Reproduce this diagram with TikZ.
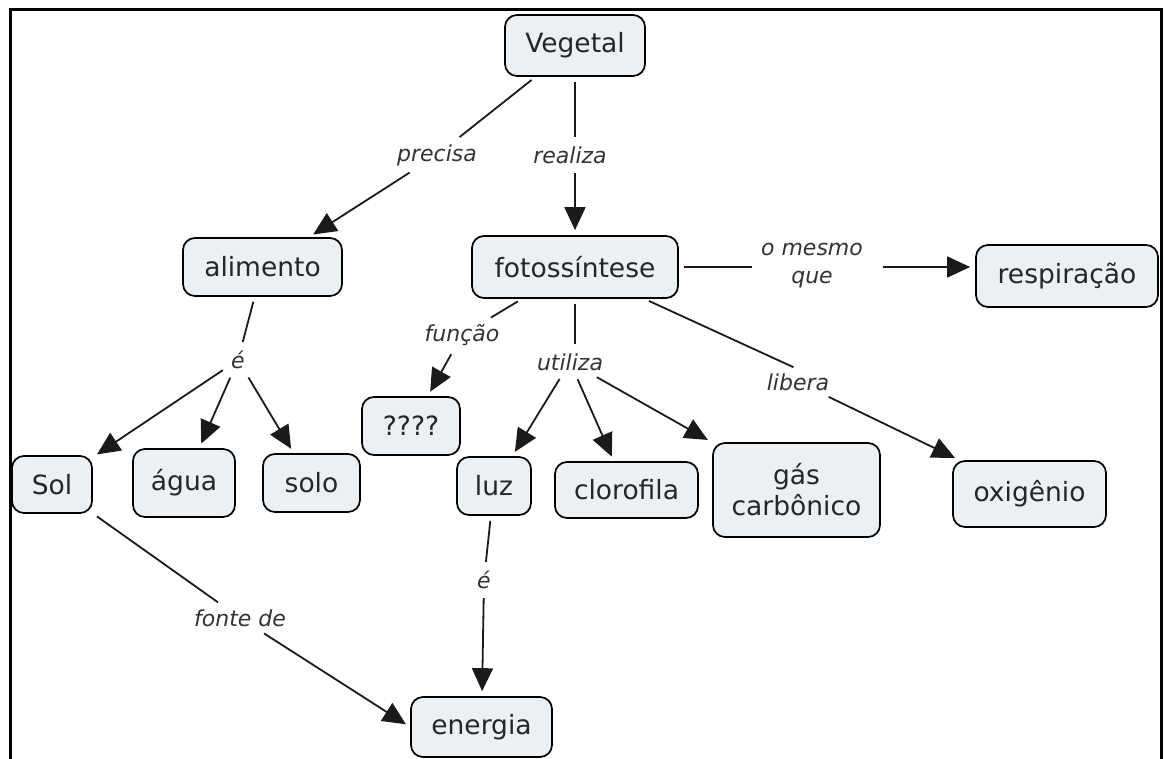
\documentclass[tikz,border=0pt]{standalone}
\usepackage{fontspec}
\setmainfont{DejaVu Sans}
\usetikzlibrary{arrows.meta}
\definecolor{nodefill}{HTML}{EAF0F3}
\definecolor{nodetext}{HTML}{262626}
\definecolor{linktext}{HTML}{333333}
\definecolor{linkline}{HTML}{1A1A1A}
\tikzset{
  concept/.style={draw=black, line width=1.7pt, rounded corners=12pt,
    fill=nodefill, text=nodetext, align=center, inner sep=0pt,
    font=\fontsize{26.5}{31}\selectfont},
  linkword/.style={text=linktext, align=center, inner sep=4pt,
    font=\fontsize{22}{28}\selectfont\itshape},
  link/.style={draw=linkline, line width=1.8pt, shorten <=5pt, shorten >=5pt},
  linkarrow/.style={link, -{Triangle[length=23pt,width=21pt]}},
}
\begin{document}
\begin{tikzpicture}[x=1pt,y=-1pt]
\useasboundingbox (0,0) rectangle (1165,759);

% frame
\draw[line width=3pt] (10,759) -- (10,9.5) -- (1161.5,9.5) -- (1161.5,759);

% concepts
\node[concept, minimum width=140pt, minimum height=61pt] (veg)   at (575,45.5)  {Vegetal};
\node[concept, minimum width=159pt, minimum height=58pt] (alim)  at (262.5,267) {alimento};
\node[concept, minimum width=206pt, minimum height=62pt] (foto)  at (575,267)   {fotossíntese};
\node[concept, minimum width=182pt, minimum height=62pt] (resp)  at (1067,276)  {respiração};
\node[concept, minimum width=98pt,  minimum height=58pt] (q)     at (411,426)   {????};
\node[concept, minimum width=80pt,  minimum height=57pt] (sol)   at (52,484.5)  {Sol};
\node[concept, minimum width=102pt, minimum height=68pt] (agua)  at (184,483)   {água};
\node[concept, minimum width=97pt,  minimum height=58pt] (solo)  at (311.5,483) {solo};
\node[concept, minimum width=74pt,  minimum height=58pt] (luz)   at (494,486)   {luz};
\node[concept, minimum width=143pt, minimum height=56pt] (cloro) at (626.5,490) {clorofila};
\node[concept, minimum width=167pt, minimum height=94pt] (gas)   at (796.5,490) {gás\\carbônico};
\node[concept, minimum width=153pt, minimum height=66pt] (oxi)   at (1029.5,494) {oxigênio};
\node[concept, minimum width=141pt, minimum height=60pt] (ener)  at (481.5,727) {energia};

% linking words
\node[linkword] (precisa) at (437,155) {precisa};
\node[linkword] (realiza) at (570,155) {realiza};
\node[linkword] (mesmo)   at (812,266) {o mesmo\\que};
\node[linkword] (funcao)  at (462,335) {função};
\node[linkword] (utiliza) at (570,362) {utiliza};
\node[linkword] (libera)  at (798,382) {libera};
\node[linkword] (e1)      at (238,360) {é};
\node[linkword] (e2)      at (484,580) {é};
\node[linkword] (fonte)   at (240,618) {fonte de};

% propositions
\draw[link] (veg) -- (precisa);
\draw[linkarrow] (precisa) -- (alim);
\draw[link] (veg.south) -- (veg.south |- realiza.north);
\draw[linkarrow] (veg.south |- realiza.south) -- (foto.north);

\draw[link] (foto.east) -- (mesmo.west |- foto.east);
\draw[linkarrow, shorten <=16pt] (mesmo.east |- foto.east) -- (resp.west |- foto.east);

\draw[link] (foto) -- (funcao);
\draw[linkarrow] (funcao) -- (q);

\draw[link] (foto.south) -- (foto.south |- utiliza.north);
\draw[linkarrow] (utiliza) -- (luz);
\draw[linkarrow] (utiliza) -- (cloro);
\draw[linkarrow] (utiliza) -- (gas);

\draw[link] (foto) -- (libera.north);
\draw[linkarrow] (libera) -- (oxi);

\draw[link] (alim) -- (e1);
\draw[linkarrow] (e1) -- (sol);
\draw[linkarrow] (e1) -- (agua);
\draw[linkarrow] (e1) -- (solo);

\draw[link] (sol) -- (fonte);
\draw[linkarrow] (fonte) -- (ener.west);

\draw[link] (luz) -- (e2);
\draw[linkarrow] (e2) -- (ener);
\end{tikzpicture}
\end{document}
